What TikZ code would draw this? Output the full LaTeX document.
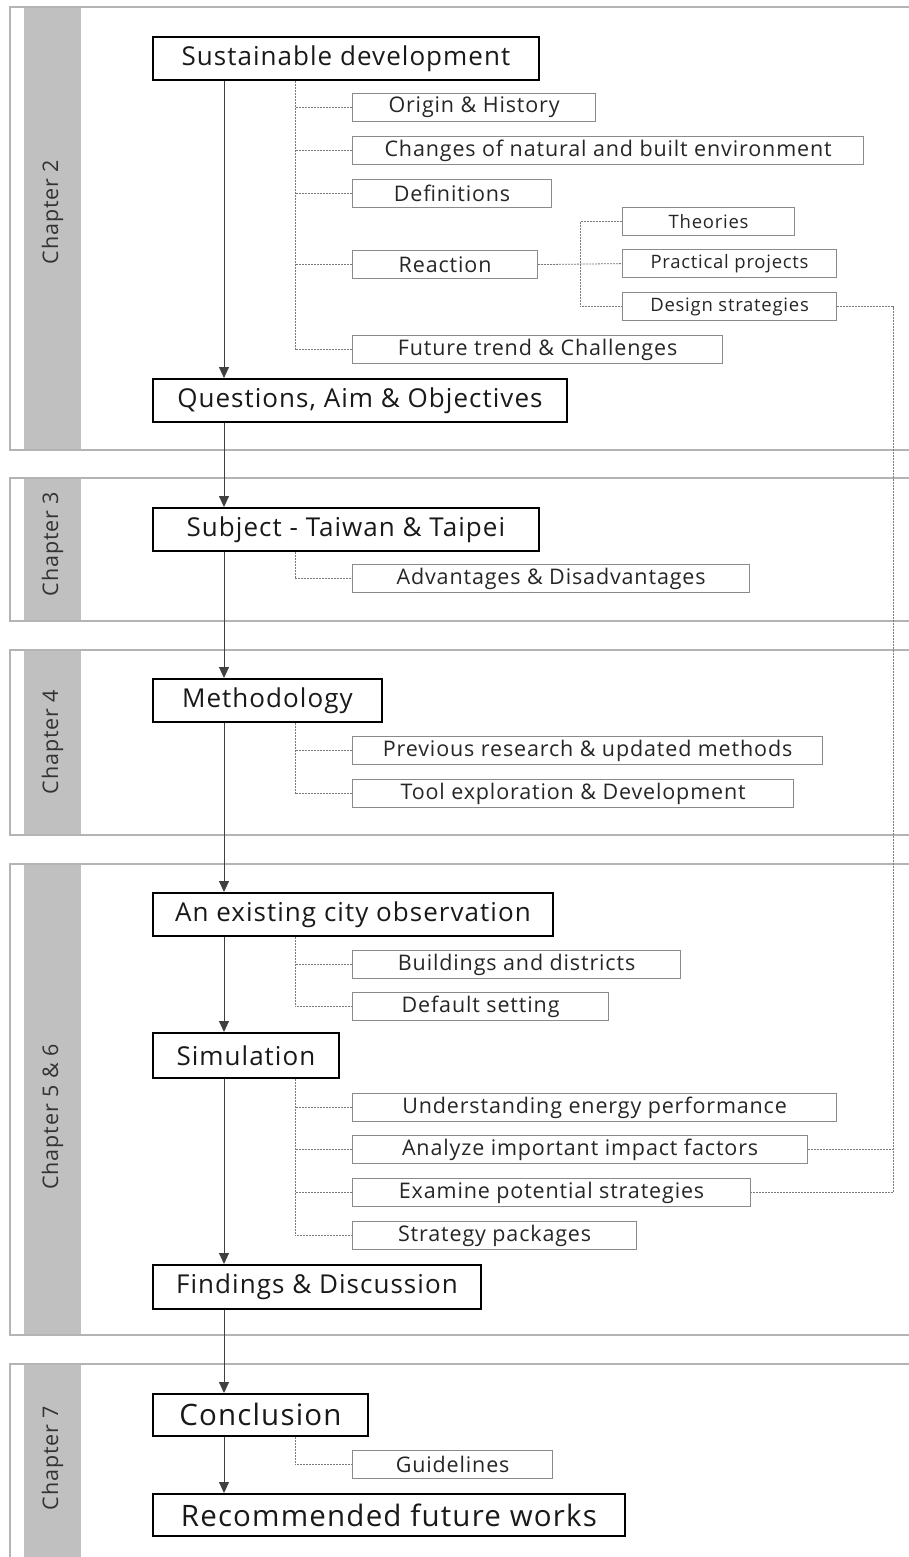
\documentclass[tikz,border=0pt]{standalone}
\usepackage{fontspec}
\setmainfont[LetterSpace=4.0]{Open Sans}
\usetikzlibrary{arrows.meta,positioning,calc}

\definecolor{bandgray}{HTML}{C0C0C0}
\definecolor{framegray}{HTML}{B4B4B4}
\definecolor{subgray}{HTML}{8A8A8A}
\definecolor{linkgray}{HTML}{7A7A7A}

\begin{document}
\begin{tikzpicture}[x=1pt,y=-1pt,>={Triangle[length=11pt,width=10pt]},
    main node/.style={draw=black,line width=1.8pt,minimum height=43pt,anchor=north west,
        inner sep=0pt,font=\fontsize{26}{26}\selectfont,text=black!90},
    big node/.style={main node,font=\fontsize{29.5}{29}\selectfont},
    sub node/.style={draw=subgray,line width=1.2pt,minimum height=28pt,anchor=north west,
        inner sep=0pt,font=\fontsize{21.5}{21}\selectfont,text=black!85},
    small node/.style={sub node,font=\fontsize{18.5}{18}\selectfont},
    flow/.style={->,draw=black!75,line width=0.9pt},
    link/.style={draw=linkgray,line width=0.8pt,dash pattern=on 2pt off 1pt},
    frame/.style={draw=framegray,line width=1.3pt},
    chapter/.style={rotate=90,font=\fontsize{21.5}{21}\selectfont,text=black!80}]

  \clip (0,0) rectangle (909,1557);

  % chapter panels
  \foreach \t/\b/\c/\i/\lab in {7/450/212/2/Chapter 2, 478/621/544/3/Chapter 3,
      650/835/742/4/Chapter 4, 864/1335/1117/5/Chapter 5 \& 6, 1364/1562/1458/7/Chapter 7} {
    \fill[bandgray] (24,\t) rectangle (81,\b);
    \draw[frame] (912,\t) -- (10,\t) -- (10,\b) -- (912,\b);
    \node[chapter] (ch\i) at (52.5,\c) {\lab};
  }

  % main steps
  \node[main node,minimum width=386pt] (sd) at (152,36) {Sustainable development};
  \node[main node,minimum width=414pt] (qa) at (152,378) {Questions, Aim \& Objectives};
  \node[main node,minimum width=386pt] (subj) at (152,507) {Subject - Taiwan \& Taipei};
  \node[main node,minimum width=229pt] (meth) at (152,678) {Methodology};
  \node[main node,minimum width=400pt] (obs) at (152,892) {An existing city observation};
  \node[main node,minimum width=186pt,minimum height=45pt] (sim) at (152,1032) {Simulation};
  \node[main node,minimum width=328pt,minimum height=44pt] (find) at (152,1264) {Findings \& Discussion};
  \node[big node,minimum width=215pt,minimum height=42pt] (concl) at (152,1393) {Conclusion};
  \node[big node,minimum width=472pt,minimum height=42pt] (rec) at (152,1493) {Recommended future works};

  % chapter 2 topics
  \node[sub node,minimum width=243pt] (orig) at (352,93) {Origin \& History};
  \node[sub node,minimum width=511pt] (chg) at (352,136) {Changes of natural and built environment};
  \node[sub node,minimum width=199pt] (def) at (352,179) {Definitions};
  \node[sub node,minimum width=185pt] (react) at (352,250) {Reaction};
  \node[sub node,minimum width=370pt] (fut) at (352,335) {Future trend \& Challenges};
  \node[small node,minimum width=172pt] (theo) at (622,207) {Theories};
  \node[small node,minimum width=214pt] (prac) at (622,249) {Practical projects};
  \node[small node,minimum width=214pt] (des) at (622,292) {Design strategies};

  % chapter 3 and 4 topics
  \node[sub node,minimum width=397pt] (adv) at (352,564) {Advantages \& Disadvantages};
  \node[sub node,minimum width=470pt] (prev) at (352,736) {Previous research \& updated methods};
  \node[sub node,minimum width=441pt] (tool) at (352,779) {Tool exploration \& Development};

  % chapter 5, 6 and 7 topics
  \node[sub node,minimum width=328pt] (bld) at (352,950) {Buildings and districts};
  \node[sub node,minimum width=256pt] (dflt) at (352,992) {Default setting};
  \node[sub node,minimum width=484pt] (und) at (352,1093) {Understanding energy performance};
  \node[sub node,minimum width=455pt] (anal) at (352,1135) {Analyze important impact factors};
  \node[sub node,minimum width=398pt] (exam) at (352,1178) {Examine potential strategies};
  \node[sub node,minimum width=284pt] (pack) at (352,1221) {Strategy packages};
  \node[sub node,minimum width=200pt] (guide) at (352,1450) {Guidelines};

  % main flow
  \foreach \a/\b in {sd/qa,qa/subj,subj/meth,meth/obs,obs/sim,sim/find,find/concl,concl/rec}
    \draw[flow] ([xshift=72pt]\a.south west) -- ([xshift=72pt]\b.north west);

  % branches
  \coordinate (sdsp) at ([xshift=143pt]sd.south west);
  \draw[link] (sdsp) |- (fut.west);
  \foreach \n in {orig,chg,def,react}
    \draw[link] (\n.west) -- (\n.west -| sdsp);
  \draw[link] ([xshift=143pt]subj.south west) |- (adv.west);
  \coordinate (methsp) at ([xshift=143pt]meth.south west);
  \draw[link] (methsp) |- (tool.west);
  \draw[link] (prev.west) -- (prev.west -| methsp);
  \coordinate (obssp) at ([xshift=143pt]obs.south west);
  \draw[link] (obssp) |- (dflt.west);
  \draw[link] (bld.west) -- (bld.west -| obssp);
  \coordinate (simsp) at ([xshift=143pt]sim.south west);
  \draw[link] (simsp) |- (pack.west);
  \foreach \n in {und,anal,exam}
    \draw[link] (\n.west) -- (\n.west -| simsp);
  \draw[link] ([xshift=143pt]concl.south west) |- (guide.west);

  % reaction
  \coordinate (rsp) at ($(react.east)!0.5!(prac.west)$);
  \draw[link] (react.east) -- (prac.west);
  \draw[link] (theo.west) -| (rsp) |- (des.west);

  % design strategies back to simulation
  \coordinate (back) at (893,700);
  \draw[link] (des.east) -| (back) |- (exam.east);
  \draw[link] (anal.east) -- (anal.east -| back);
\end{tikzpicture}
\end{document}
